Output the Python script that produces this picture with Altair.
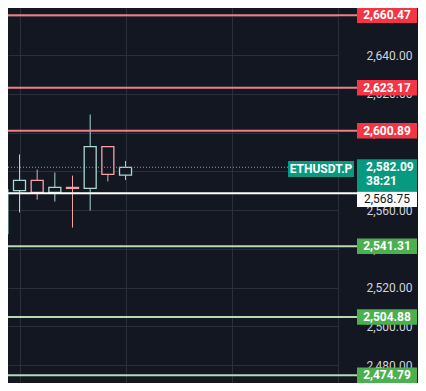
import altair as alt
import pandas as pd

# ---- data ----
candle_idx = [0, 1, 2, 3, 4, 5, 6, 7]
candle_open = [2547.9, 2570.1, 2575.3, 2569.1, 2571.7, 2571.2, 2592.7, 2578.0]
candle_close = [2570.6, 2575.3, 2569.1, 2571.7, 2571.2, 2592.7, 2578.4, 2582.09]
candle_high = [2572.6, 2588.7, 2580.9, 2579.4, 2577.8, 2609.3, 2593.0, 2585.3]
candle_low = [2531.9, 2558.8, 2565.4, 2564.4, 2551.0, 2559.8, 2574.8, 2575.5]

red_levels = [2660.47, 2623.17, 2600.89]
green_levels = [2541.31, 2504.88, 2474.79]
white_level = [2568.75]
last_price = [2582.09]
countdown = ["38:21"]
symbol_name = ["ETHUSDT.P"]

price_ticks = [2480, 2500, 2520, 2540, 2560, 2580, 2600, 2620, 2640, 2660]
time_grid = [1, 7, 13, 19]

# ---- styling ----
BG = "#131722"
GRID = "#2b2f3a"
UP = "#a9d9cf"
DOWN = "#f4a3a3"
RED_LINE = "#ef7f85"
GREEN_LINE = "#b4dcb0"
RED_BOX = "#f23645"
GREEN_BOX = "#4caf50"
TEAL = "#089981"
FONT = "Roboto"

xs = alt.Scale(domain=[0.349, 19.025], nice=False, zero=False, padding=0)
ys = alt.Scale(domain=[2470.84, 2664.24], nice=False, zero=False, padding=0)

candles = pd.DataFrame({
    "i": candle_idx, "open": candle_open, "close": candle_close,
    "high": candle_high, "low": candle_low,
})
candles["dir"] = ["up" if c >= o else "down" for o, c in zip(candle_open, candle_close)]

dir_scale = alt.Scale(domain=["up", "down"], range=[UP, DOWN])

x_axis = alt.Axis(values=time_grid, grid=True, labels=False, ticks=False,
                  domain=False, title=None, gridColor=GRID, gridWidth=1)
y_axis = alt.Axis(orient="right", values=price_ticks, format=",.2f", grid=True,
                  gridColor=GRID, gridWidth=1, ticks=False, tickSize=0,
                  domain=False, title=None, labelAlign="right", labelPadding=74,
                  labelColor="#d1d4dc", labelFont=FONT, labelFontSize=12)


def Y(field):
    return alt.Y(field, scale=ys, axis=y_axis)


wicks = alt.Chart(candles).mark_rule(clip=True, strokeWidth=1).encode(
    x=alt.X("i:Q", scale=xs, axis=x_axis),
    y=Y("low:Q"),
    y2="high:Q",
    color=alt.Color("dir:N", scale=dir_scale, legend=None),
)

bodies = alt.Chart(candles).mark_bar(clip=True, size=12, fill=BG, strokeWidth=1.3).encode(
    x=alt.X("i:Q", scale=xs, axis=x_axis),
    y=Y("open:Q"),
    y2="close:Q",
    stroke=alt.Stroke("dir:N", scale=dir_scale, legend=None),
)


def level_rule(vals, color, width=2, x2=349, dash=None):
    df = pd.DataFrame({"p": vals})
    kw = dict(color=color, strokeWidth=width)
    if dash:
        kw["strokeDash"] = dash
    return alt.Chart(df).mark_rule(**kw).encode(
        y=Y("p:Q"),
        x=alt.value(0), x2=alt.value(x2),
    )


def level_box(vals, fill, up=4.0, down=4.0, x1=349, x2=409):
    df = pd.DataFrame({"p": vals})
    return alt.Chart(df).transform_calculate(
        hi=f"datum.p + {up}", lo=f"datum.p - {down}"
    ).mark_rect(color=fill).encode(
        y=Y("lo:Q"), y2="hi:Q",
        x=alt.value(x1), x2=alt.value(x2),
    )


def level_text(vals, color="white", weight="bold", shift=0.0, x=379):
    df = pd.DataFrame({"p": vals})
    return alt.Chart(df).transform_calculate(
        ty=f"datum.p + {shift}"
    ).mark_text(font=FONT, fontSize=12, fontWeight=weight, color=color,
                align="center", baseline="middle").encode(
        y=Y("ty:Q"),
        x=alt.value(x),
        text=alt.Text("p:Q", format=",.2f"),
    )


red_rules = level_rule(red_levels, RED_LINE)
green_rules = level_rule(green_levels, GREEN_LINE)
white_rule = level_rule(white_level, "#ffffff", x2=349)
dotted = level_rule(last_price, "#8f949e", width=1, x2=280, dash=[1, 2])

red_boxes = level_box(red_levels, RED_BOX)
green_boxes = level_box(green_levels, GREEN_BOX)
white_box = level_box(white_level, "#ffffff", up=1.0, down=7.2)
red_texts = level_text(red_levels)
green_texts = level_text(green_levels)
white_text = level_text(white_level, color="#131722", weight="normal", shift=-3.1)

# last price box
lp = pd.DataFrame({"p": last_price, "t": countdown, "s": symbol_name})
price_box = alt.Chart(lp).transform_calculate(
    hi="datum.p + 4.13", lo="datum.p - 12.64"
).mark_rect(color=TEAL).encode(
    y=Y("lo:Q"), y2="hi:Q",
    x=alt.value(349), x2=alt.value(409),
)
price_text = alt.Chart(lp).mark_text(
    font=FONT, fontSize=12, fontWeight="bold", color="white",
    align="left", baseline="middle"
).encode(
    y=Y("p:Q"), x=alt.value(358),
    text=alt.Text("p:Q", format=",.2f"),
)
timer_text = alt.Chart(lp).transform_calculate(
    ty="datum.p - 6.9"
).mark_text(
    font=FONT, fontSize=12, fontWeight="bold", color="white",
    align="left", baseline="middle"
).encode(
    y=Y("ty:Q"), x=alt.value(358), text="t:N",
)
sym_box = alt.Chart(lp).transform_calculate(
    hi="datum.p + 3.2", lo="datum.p - 5.0"
).mark_rect(color=TEAL).encode(
    y=Y("lo:Q"), y2="hi:Q",
    x=alt.value(280), x2=alt.value(346),
)
sym_text = alt.Chart(lp).transform_calculate(
    ty="datum.p - 0.9"
).mark_text(
    font=FONT, fontSize=12, fontWeight="bold", color="white",
    align="center", baseline="middle"
).encode(
    y=Y("ty:Q"), x=alt.value(313), text="s:N",
)

chart = alt.layer(
    wicks, bodies, dotted, red_rules, green_rules, white_rule,
    red_boxes, green_boxes, white_box, red_texts, green_texts, white_text,
    sym_box, sym_text, price_box, price_text, timer_text,
).properties(
    width=330, height=375,
    autosize=alt.AutoSizeParams(type="none"),
    padding={"left": 0, "top": 0, "right": 80, "bottom": 0},
    background=BG,
).configure_view(stroke=None)

chart.save("out.html", embed_options={"renderer": "svg", "actions": False})
